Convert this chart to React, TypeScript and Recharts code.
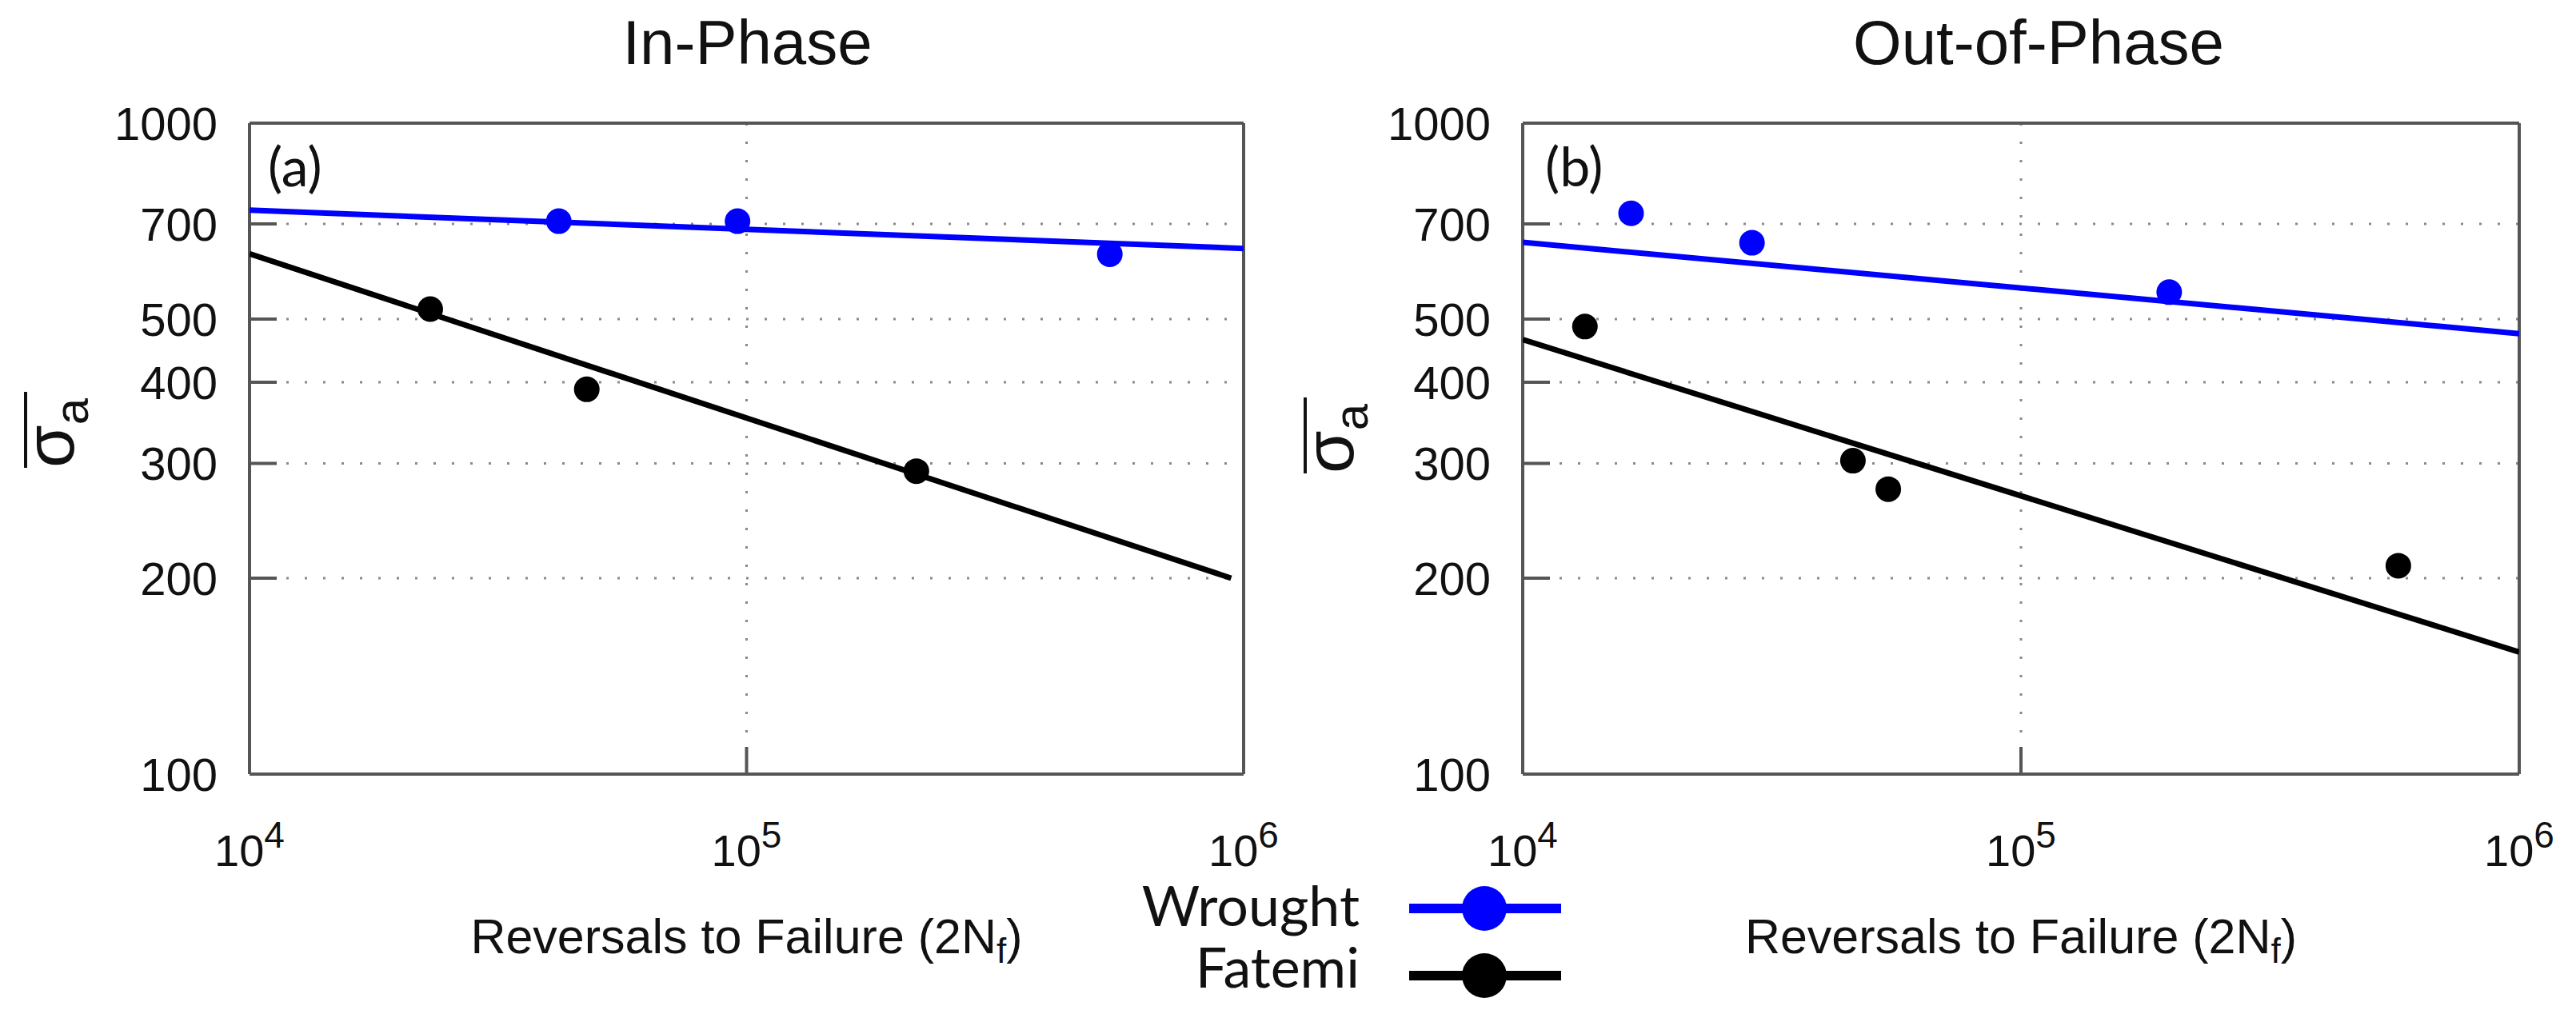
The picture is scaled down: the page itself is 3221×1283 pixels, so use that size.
import React from 'react';
import { ScatterChart, Scatter, XAxis, YAxis, CartesianGrid, Legend, Label } from 'recharts';

// ---------- axis ticks ----------
const xTicks = [1e4, 1e5, 1e6];
const xTickExponents = ['4', '5', '6'];
const yTicks = [100, 200, 300, 400, 500, 700, 1000];
const yTickLabels = ['100', '200', '300', '400', '500', '700', '1000'];

// ---------- legend ----------
const seriesNames = ['Wrought', 'Fatemi'];
const seriesColors = ['#0000ff', '#000000'];

// ---------- panel texts ----------
const panelTitles = ['In-Phase', 'Out-of-Phase'];
const panelTags = ['(a)', '(b)'];
const xTitleMain = 'Reversals to Failure (2N';
const xTitleSub = 'f';

// ---------- In-Phase data ----------
const ipWroughtN = [41900, 95900, 538000];
const ipWroughtS = [707, 707, 629];
const ipFatemiN = [23100, 47700, 219600];
const ipFatemiS = [518, 390, 292];
const ipWroughtFitN = [1e4, 1e6];
const ipWroughtFitS = [735, 642];
const ipFatemiFitN = [1e4, 944000];
const ipFatemiFitS = [630, 200];

// ---------- Out-of-Phase data ----------
const opWroughtN = [16500, 28850, 198400];
const opWroughtS = [727, 655, 550];
const opFatemiN = [13330, 46000, 54160, 572000];
const opFatemiS = [487, 303, 274, 209];
const opWroughtFitN = [1e4, 1e6];
const opWroughtFitS = [656, 475];
const opFatemiFitN = [1e4, 1e6];
const opFatemiFitS = [465, 154];

const zip = (xs: number[], ys: number[]) => xs.map((x, i) => ({ x, y: ys[i] }));

const ARIAL = '"Liberation Sans", Arial, Helvetica, sans-serif';
const CAL = 'Lato, "Open Sans", sans-serif';
const AXIS_GRAY = '#555';
const TEXT = '#111';

const XTick = (props: any) => {
  const { x, y, index } = props;
  return (
    <text x={x} y={y} textAnchor="middle" fontFamily={ARIAL} fontSize={56} fill={TEXT}>
      <tspan>10</tspan>
      <tspan dy={-23} fontSize={46}>{xTickExponents[index]}</tspan>
    </text>
  );
};

type Box = { top: number; right: number; bottom: number; left: number };
type PanelProps = {
  width: number;
  height: number;
  plot: Box; // plot-area offsets from each chart edge
  wrought: { x: number; y: number }[];
  fatemi: { x: number; y: number }[];
  wroughtFit: { x: number; y: number }[];
  fatemiFit: { x: number; y: number }[];
  title: string;
  tag: string;
  titleDx: number;
  tagDx: number;
  yLabelOffset: number;
  yLabelStart: number;
  showLegend: boolean;
};

const AX = 1; // thickness reserved by each axis

const Panel = (p: PanelProps) => {
  const plotLeft = p.plot.left;
  const plotRight = p.width - p.plot.right;
  const plotTop = p.plot.top;
  const plotBottom = p.height - p.plot.bottom;
  const cx = (plotLeft + plotRight) / 2;
  const margin = {
    top: p.plot.top - AX,
    right: p.plot.right - AX,
    bottom: p.plot.bottom - AX,
    left: p.plot.left - AX,
  };

  const topContent = () => (
    <g>
      <text x={cx + p.titleDx} y={80} textAnchor="middle" fontFamily={ARIAL} fontSize={78} fill={TEXT}>
        {p.title}
      </text>
      <text x={plotLeft + p.tagDx} y={plotTop + 79} textAnchor="start" fontFamily={CAL} fontSize={68} fill={TEXT}>
        {p.tag}
      </text>
    </g>
  );

  const bottomContent = () => (
    <text x={cx} y={plotBottom + 224} textAnchor="middle" fontFamily={ARIAL} fontSize={61} fill={TEXT}>
      <tspan>{xTitleMain}</tspan>
      <tspan fontSize={44} dy={12}>{xTitleSub}</tspan>
      <tspan dy={-12}>)</tspan>
    </text>
  );

  const yContent = () => (
    <g transform={`translate(${plotLeft - p.yLabelOffset}, ${p.yLabelStart}) rotate(-90)`}>
      <text x={0} y={0} fontFamily={ARIAL} fontSize={87} fill={TEXT}>
        <tspan>σ</tspan>
        <tspan fontSize={60} dy={18}>a</tspan>
      </text>
      <line x1={0} x2={95} y1={-60} y2={-60} stroke={TEXT} strokeWidth={4} />
    </g>
  );

  const dot = (color: string) => (s: any) => <circle cx={s.cx} cy={s.cy} r={16} fill={color} />;
  const noDot = () => <g />;

  const axisLine = { stroke: AXIS_GRAY, strokeWidth: 4 };

  return (
    <ScatterChart width={p.width} height={p.height} margin={margin}>
      <CartesianGrid stroke="#8a8a8a" strokeWidth={3} strokeDasharray="3 20" />
      <XAxis
        dataKey="x"
        type="number"
        scale="log"
        domain={[1e4, 1e6]}
        allowDataOverflow
        ticks={xTicks}
        interval={0}
        height={AX}
        orientation="bottom"
        axisLine={axisLine}
        tickLine={axisLine}
        tickSize={-34}
        tickMargin={149}
        tick={(tp: any) => <XTick {...tp} />}
      >
        <Label content={bottomContent} />
      </XAxis>
      <XAxis
        xAxisId="top"
        dataKey="x"
        type="number"
        scale="log"
        domain={[1e4, 1e6]}
        allowDataOverflow
        ticks={xTicks}
        interval={0}
        height={AX}
        orientation="top"
        axisLine={axisLine}
        tickLine={axisLine}
        tickSize={-34}
        tick={false}
      >
        <Label content={topContent} />
      </XAxis>
      <YAxis
        dataKey="y"
        type="number"
        scale="log"
        domain={[100, 1000]}
        allowDataOverflow
        ticks={yTicks}
        interval={0}
        width={AX}
        orientation="left"
        axisLine={axisLine}
        tickLine={axisLine}
        tickSize={-34}
        tickMargin={74}
        tickFormatter={(v: number, i: number) => yTickLabels[i] ?? String(v)}
        tick={{ fontSize: 58, fontFamily: ARIAL, fill: TEXT }}
      >
        <Label content={yContent} />
      </YAxis>
      <YAxis
        yAxisId="right"
        dataKey="y"
        type="number"
        scale="log"
        domain={[100, 1000]}
        allowDataOverflow
        ticks={yTicks}
        interval={0}
        width={AX}
        orientation="right"
        axisLine={axisLine}
        tickLine={axisLine}
        tickSize={-34}
        tick={false}
      />
      <Scatter
        name="wrought-fit"
        data={p.wroughtFit}
        fill={seriesColors[0]}
        line={{ stroke: seriesColors[0], strokeWidth: 7 }}
        shape={noDot}
        legendType="none"
        isAnimationActive={false}
      />
      <Scatter
        name="fatemi-fit"
        data={p.fatemiFit}
        fill={seriesColors[1]}
        line={{ stroke: seriesColors[1], strokeWidth: 7 }}
        shape={noDot}
        legendType="none"
        isAnimationActive={false}
      />
      <Scatter name={seriesNames[0]} data={p.wrought} fill={seriesColors[0]} shape={dot(seriesColors[0])} isAnimationActive={false} />
      <Scatter name={seriesNames[1]} data={p.fatemi} fill={seriesColors[1]} shape={dot(seriesColors[1])} isAnimationActive={false} />
      {p.showLegend && (
        <Legend
          layout="vertical"
          align="center"
          verticalAlign="middle"
          wrapperStyle={{ position: 'absolute', left: 1400, top: 1060, width: 600, height: 220, margin: 0, padding: 0 }}
          content={() => (
            <svg width={600} height={220} style={{ overflow: 'visible' }}>
              {seriesNames.map((name, i) => {
                const ly = [76, 160][i];
                const ty = [98, 175][i];
                return (
                  <g key={name}>
                    <text x={300} y={ty} textAnchor="end" fontFamily={CAL} fontSize={70} fill={TEXT}>
                      {name}
                    </text>
                    <line x1={362} x2={552} y1={ly} y2={ly} stroke={seriesColors[i]} strokeWidth={12} />
                    <circle cx={456} cy={ly} r={28} fill={seriesColors[i]} />
                  </g>
                );
              })}
            </svg>
          )}
        />
      )}
    </ScatterChart>
  );
};

export default function App() {
  return (
    <div style={{ position: 'absolute', left: 0, top: 0, width: 3221, height: 1283, background: '#fff' }}>
      <div style={{ position: 'absolute', left: 0, top: 0 }}>
        <Panel
          width={1610}
          height={1283}
          plot={{ top: 154, right: 55, bottom: 315, left: 312 }}
          wrought={zip(ipWroughtN, ipWroughtS)}
          fatemi={zip(ipFatemiN, ipFatemiS)}
          wroughtFit={zip(ipWroughtFitN, ipWroughtFitS)}
          fatemiFit={zip(ipFatemiFitN, ipFatemiFitS)}
          title={panelTitles[0]}
          tag={panelTags[0]}
          titleDx={1}
          tagDx={23}
          yLabelOffset={220}
          yLabelStart={585}
          showLegend={true}
        />
      </div>
      <div style={{ position: 'absolute', left: 1580, top: 0 }}>
        <Panel
          width={1641}
          height={1283}
          plot={{ top: 154, right: 71, bottom: 315, left: 324 }}
          wrought={zip(opWroughtN, opWroughtS)}
          fatemi={zip(opFatemiN, opFatemiS)}
          wroughtFit={zip(opWroughtFitN, opWroughtFitS)}
          fatemiFit={zip(opFatemiFitN, opFatemiFitS)}
          title={panelTitles[1]}
          tag={panelTags[1]}
          titleDx={22}
          tagDx={28}
          yLabelOffset={212}
          yLabelStart={592}
          showLegend={false}
        />
      </div>
    </div>
  );
}
